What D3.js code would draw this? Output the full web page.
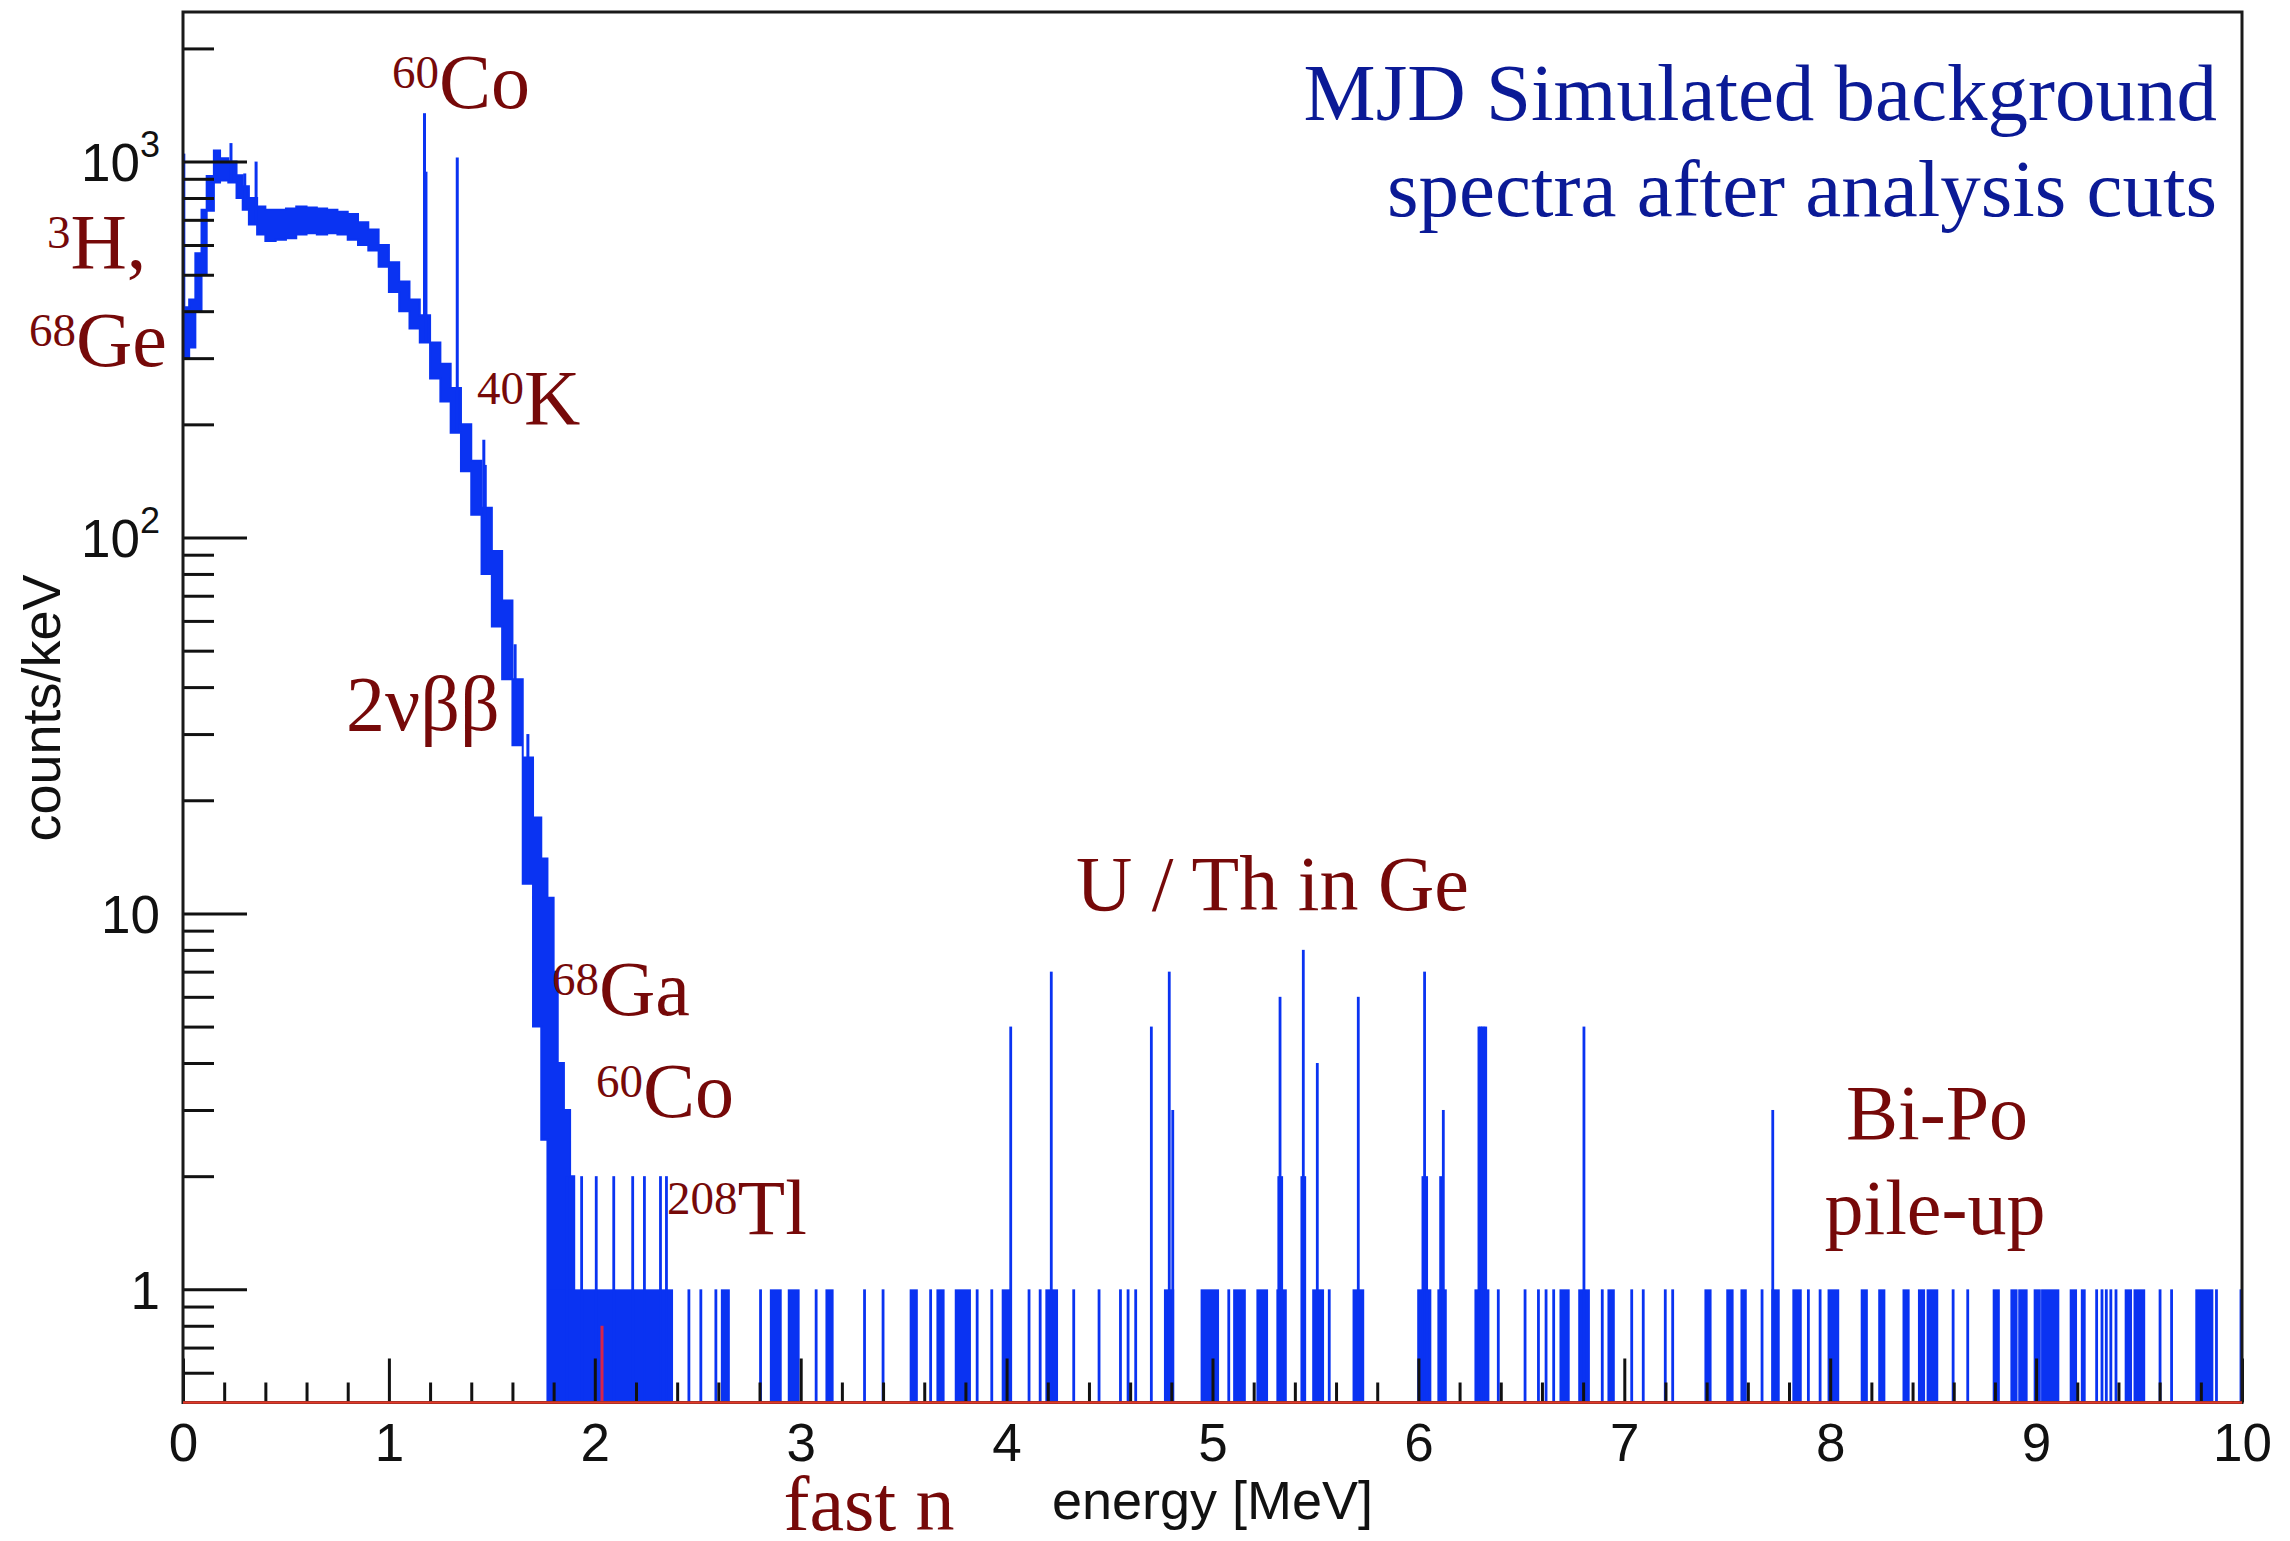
<!DOCTYPE html>
<html>
<head>
<meta charset="utf-8">
<script src="https://cdn.jsdelivr.net/npm/d3@7"></script>
<style>
body { margin: 0; background: #fff; }
svg { display: block; }
</style>
</head>
<body>
<script>
var W = 2290, H = 1541;
var frameL = 183, frameR = 2242, frameT = 12, frameB = 1402.5;

var blue = "#0a33f2";
var darkred = "#760909";
var titleBlue = "#0b1a96";
var serif = "'Liberation Serif', 'Times New Roman', serif";
var sans = "'Liberation Sans', Arial, Helvetica, sans-serif";

// continuum band: energy (MeV), upper and lower edge of the band (counts/keV)
var contE  = [0.000, 0.010, 0.030, 0.060, 0.090, 0.115, 0.150, 0.180, 0.220, 0.260,
              0.290, 0.320, 0.360, 0.400, 0.450, 0.500, 0.550, 0.600, 0.650, 0.700,
              0.750, 0.800, 0.850, 0.900, 0.950, 1.000, 1.050, 1.100, 1.150, 1.200,
              1.250, 1.300, 1.350, 1.400, 1.450, 1.500, 1.550, 1.600, 1.650, 1.700,
              1.740, 1.770, 1.800, 1.820, 1.850, 1.880, 1.900];
var contHi = [400, 410, 430, 570, 745, 915, 1070, 1020, 1000, 920,
              860, 800, 760, 745, 745, 750, 760, 755, 750, 745,
              735, 725, 690, 660, 600, 540, 480, 430, 390, 330,
              290, 250, 200, 160, 120, 92, 68, 42, 26, 18,
              14, 11, 7, 4, 3, 2, 2];
var contLo = [300, 300, 320, 400, 500, 740, 880, 890, 880, 800,
              745, 680, 640, 615, 620, 625, 640, 645, 640, 645,
              640, 620, 600, 580, 525, 450, 400, 360, 330, 265,
              230, 190, 150, 115, 80, 58, 42, 28, 12, 5,
              2.5, 0.5, 0.5, 0.5, 0.5, 0.5, 0.5];

// gamma lines sticking out of the continuum
var lineE = [0.004, 0.233, 0.300, 0.355, 1.173, 1.180, 1.332, 1.461, 1.468, 1.613, 1.675];
var lineN = [1050, 1120, 930, 1000, 1345, 940, 1025, 182, 156, 52, 30];

// 1.8 - 2.4 MeV: every bin holds one count
var denseE = [1.775, 2.38];

// single counts above 2.4 MeV, [first bin, last bin] of each group
var oneBins = [
  [2.457, 2.457], [2.515, 2.515], [2.588, 2.588], [2.619, 2.649], [2.805, 2.805],
  [2.857, 2.901], [2.944, 2.988], [3.075, 3.075], [3.127, 3.153], [3.310, 3.310],
  [3.400, 3.400], [3.536, 3.562], [3.631, 3.631], [3.666, 3.692], [3.755, 3.820],
  [3.857, 3.857], [3.928, 3.928], [3.983, 4.015], [4.109, 4.109], [4.163, 4.163],
  [4.195, 4.243], [4.326, 4.326], [4.449, 4.449], [4.553, 4.553], [4.590, 4.590],
  [4.627, 4.627], [4.771, 4.807], [4.949, 5.025], [5.079, 5.079], [5.107, 5.155],
  [5.220, 5.263], [5.317, 5.354], [5.491, 5.535], [5.567, 5.567], [5.687, 5.730],
  [6.001, 6.056], [6.099, 6.131], [6.279, 6.338], [6.388, 6.388], [6.518, 6.518],
  [6.583, 6.583], [6.620, 6.620], [6.657, 6.657], [6.692, 6.728], [6.783, 6.826],
  [6.893, 6.893], [6.925, 6.947], [7.036, 7.036], [7.092, 7.092], [7.199, 7.199],
  [7.235, 7.235], [7.396, 7.417], [7.502, 7.524], [7.571, 7.588], [7.669, 7.669],
  [7.721, 7.748], [7.823, 7.855], [7.894, 7.894], [7.951, 7.951], [7.994, 8.037],
  [8.155, 8.176], [8.240, 8.261], [8.358, 8.379], [8.433, 8.454], [8.475, 8.518],
  [8.597, 8.597], [8.668, 8.668], [8.796, 8.817], [8.882, 8.903], [8.920, 8.952],
  [8.995, 9.016], [9.031, 9.106], [9.170, 9.192], [9.224, 9.234], [9.294, 9.294],
  [9.320, 9.320], [9.341, 9.341], [9.363, 9.363], [9.388, 9.388], [9.437, 9.459],
  [9.480, 9.523], [9.602, 9.602], [9.658, 9.658], [9.780, 9.854], [9.876, 9.876],
  [9.995, 9.995]
];

// bins holding more than one count
var multiE = [1.865, 1.936, 2.007, 2.092, 2.184, 2.241, 2.319, 2.348,
              4.020, 4.217, 4.703, 4.790, 4.807, 5.322, 5.328, 5.336, 5.434, 5.441,
              5.448, 5.509, 5.708, 6.022, 6.030, 6.040, 6.108, 6.121, 6.294, 6.302,
              6.310, 6.318, 6.327, 6.804, 7.721];
var multiN = [2, 2, 2, 2, 2, 2, 2, 2,
              5, 7, 5, 7, 3, 2, 6, 2, 2, 8,
              2, 4, 6, 2, 7, 2, 2, 3, 5, 5,
              5, 5, 5, 5, 3];

// fast neutron histogram (red)
var fastE = [2.035];
var fastN = [0.8];

var xMajor = [0, 1, 2, 3, 4, 5, 6, 7, 8, 9, 10];
var yMajor = [1, 10, 100, 1000];
var yLabels = [["1", ""], ["10", ""], ["10", "2"], ["10", "3"]];

var svg = d3.select("body")
    .append("svg")
    .attr("width", W)
    .attr("height", H);

var x = d3.scaleLinear().domain([0, 10]).range([frameL, frameR]);
var y = d3.scaleLog().domain([0.5, 2500]).range([frameB, frameT]);

var hist = svg.append("g");

// continuum band, drawn as histogram steps
var cont = contE.map(function (e, i) { return { e: e, hi: contHi[i], lo: contLo[i] }; });
hist.append("path")
    .datum(cont)
    .attr("d", d3.area()
        .x(function (d) { return x(d.e); })
        .y0(function (d) { return y(d.lo); })
        .y1(function (d) { return y(d.hi); })
        .curve(d3.curveStepAfter))
    .attr("fill", blue)
    .attr("stroke", blue)
    .attr("stroke-width", 2);

// gamma lines
function baseAt(e) {
    var i = Math.max(0, d3.bisectRight(contE, e) - 1);
    return contLo[i];
}
hist.selectAll(".gline")
    .data(lineE)
    .enter()
    .append("line")
    .attr("x1", function (d) { return x(d); })
    .attr("x2", function (d) { return x(d); })
    .attr("y1", function (d, i) { return y(lineN[i]); })
    .attr("y2", function (d) { return y(baseAt(d)); })
    .attr("stroke", blue)
    .attr("stroke-width", 3);

// dense block of single counts
hist.append("rect")
    .attr("x", x(denseE[0]))
    .attr("width", x(denseE[1]) - x(denseE[0]))
    .attr("y", y(1))
    .attr("height", frameB - y(1))
    .attr("fill", blue);

// isolated single counts
hist.selectAll(".one")
    .data(oneBins)
    .enter()
    .append("rect")
    .attr("x", function (d) { return x(d[0]) - 1.4; })
    .attr("width", function (d) { return x(d[1]) - x(d[0]) + 2.8; })
    .attr("y", y(1))
    .attr("height", frameB - y(1))
    .attr("fill", blue);

// multi-count bins
hist.selectAll(".multi")
    .data(multiE)
    .enter()
    .append("rect")
    .attr("x", function (d) { return x(d) - 1.4; })
    .attr("width", 2.8)
    .attr("y", function (d, i) { return y(multiN[i]); })
    .attr("height", function (d, i) { return frameB - y(multiN[i]); })
    .attr("fill", blue);

// fast n spike
hist.selectAll(".fast")
    .data(fastE)
    .enter()
    .append("line")
    .attr("x1", function (d) { return x(d); })
    .attr("x2", function (d) { return x(d); })
    .attr("y1", function (d, i) { return y(fastN[i]); })
    .attr("y2", frameB)
    .attr("stroke", "#d8244a")
    .attr("stroke-width", 3);

// axes: ROOT style ticks pointing into the frame
var xMinor = d3.range(0, 10.001, 0.2).filter(function (v) { return Math.abs(v - Math.round(v)) > 0.01; });
var yMinor = [];
[0.1, 1, 10, 100, 1000].forEach(function (dec) {
    for (var k = 2; k <= 9; k++) {
        var v = dec * k;
        if (v > 0.5 && v < 2500 && yMajor.indexOf(v) < 0) yMinor.push(v);
    }
});

function styleAxis(g) {
    g.select(".domain").remove();
    g.selectAll("line").attr("stroke", "#111").attr("stroke-width", 3);
}

svg.append("g")
    .attr("transform", "translate(0," + frameB + ")")
    .call(d3.axisBottom(x).tickValues(xMinor).tickSize(-20).tickFormat(""))
    .call(styleAxis);

var xg = svg.append("g")
    .attr("transform", "translate(0," + frameB + ")")
    .call(d3.axisBottom(x).tickValues(xMajor).tickSize(-44).tickPadding(21).tickFormat(d3.format("d")))
    .call(styleAxis);
xg.selectAll("text")
    .attr("font-family", sans)
    .attr("font-size", 53)
    .attr("fill", "#111");

svg.append("g")
    .attr("transform", "translate(" + frameL + ",0)")
    .call(d3.axisLeft(y).tickValues(yMinor).tickSize(-31).tickFormat(""))
    .call(styleAxis);

svg.append("g")
    .attr("transform", "translate(" + frameL + ",0)")
    .call(d3.axisLeft(y).tickValues(yMajor).tickSize(-64).tickFormat(""))
    .call(styleAxis);

yMajor.forEach(function (v, i) {
    var t = svg.append("text")
        .attr("x", 160)
        .attr("y", y(v))
        .attr("dy", "0.37em")
        .attr("text-anchor", "end")
        .attr("font-family", sans)
        .attr("font-size", 53)
        .attr("fill", "#111");
    t.append("tspan").text(yLabels[i][0]);
    if (yLabels[i][1]) {
        t.append("tspan")
            .attr("font-size", 36)
            .attr("dy", -24)
            .text(yLabels[i][1]);
    }
});

// frame
svg.append("rect")
    .attr("x", frameL)
    .attr("y", frameT)
    .attr("width", frameR - frameL)
    .attr("height", frameB - frameT)
    .attr("fill", "none")
    .attr("stroke", "#1a1a1a")
    .attr("stroke-width", 3);

// red histogram sits at zero along the bottom
svg.append("line")
    .attr("x1", x(0))
    .attr("x2", x(10))
    .attr("y1", frameB)
    .attr("y2", frameB)
    .attr("stroke", "#e23a2a")
    .attr("stroke-width", 2.5);

// axis titles
svg.append("text")
    .attr("x", x(5))
    .attr("y", 1519)
    .attr("text-anchor", "middle")
    .attr("font-family", sans)
    .attr("font-size", 54)
    .attr("fill", "#111")
    .text("energy [MeV]");

svg.append("text")
    .attr("transform", "translate(60,708) rotate(-90)")
    .attr("text-anchor", "middle")
    .attr("font-family", sans)
    .attr("font-size", 54)
    .attr("fill", "#111")
    .text("counts/keV");

// annotations
function note(px, py, sup, main, anchor) {
    var t = svg.append("text")
        .attr("x", px)
        .attr("y", py)
        .attr("text-anchor", anchor || "start")
        .attr("font-family", serif)
        .attr("font-size", 78)
        .attr("fill", darkred);
    if (sup) {
        t.append("tspan").attr("font-size", 47).attr("dy", -20).text(sup);
        t.append("tspan").attr("dy", 20).text(main);
    } else {
        t.append("tspan").text(main);
    }
}

note(47, 268, "3", "H,");
note(29, 366, "68", "Ge");
note(392, 108, "60", "Co");
note(477, 424, "40", "K");
note(346, 730, "", "2\u03bd\u03b2\u03b2");
note(552, 1015, "68", "Ga");
note(596, 1117, "60", "Co");
note(667, 1234, "208", "Tl");
note(1076, 910, "", "U / Th in Ge");
note(1937, 1139, "", "Bi-Po", "middle");
note(1935, 1234, "", "pile-up", "middle");
note(869, 1530, "", "fast n", "middle");

svg.append("text")
    .attr("x", 2217)
    .attr("y", 120)
    .attr("text-anchor", "end")
    .attr("font-family", serif)
    .attr("font-size", 81)
    .attr("fill", titleBlue)
    .text("MJD Simulated background");

svg.append("text")
    .attr("x", 2217)
    .attr("y", 216)
    .attr("text-anchor", "end")
    .attr("font-family", serif)
    .attr("font-size", 81)
    .attr("fill", titleBlue)
    .text("spectra after analysis cuts");
</script>
</body>
</html>
